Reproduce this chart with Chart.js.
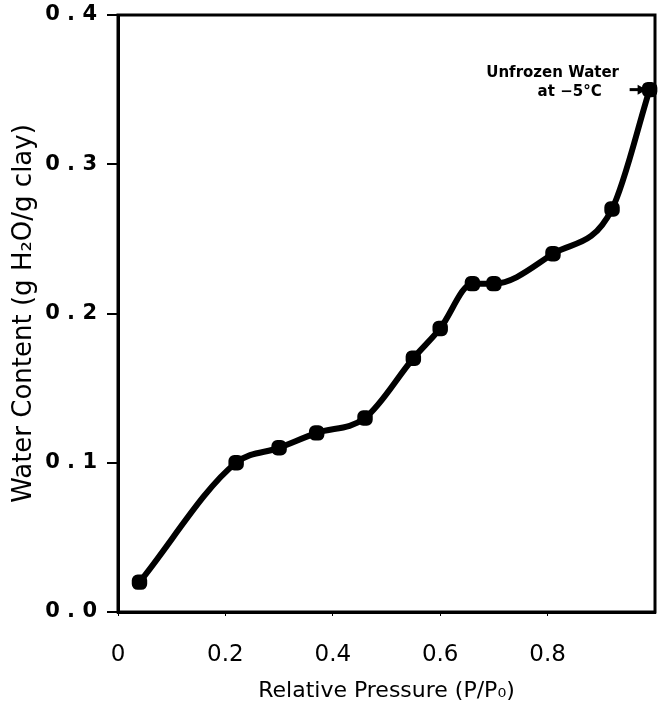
<!DOCTYPE html>
<html>
<head>
<meta charset="utf-8">
<script src="https://cdn.jsdelivr.net/npm/chart.js@4.4.1/dist/chart.umd.min.js"></script>
<style>
  html, body { margin: 0; padding: 0; background: #fff; }
  #wrap { width: 660px; height: 714px; }
</style>
</head>
<body>
<div id="wrap"><canvas id="myChart" width="660" height="714"></canvas></div>
<script>
// data
var pressure = [0.04, 0.22, 0.30, 0.37, 0.46, 0.55, 0.60, 0.66, 0.70, 0.81, 0.92, 0.99];
var water    = [0.02, 0.10, 0.11, 0.12, 0.13, 0.17, 0.19, 0.22, 0.22, 0.24, 0.27, 0.35];
var xTicks = [0, 0.2, 0.4, 0.6, 0.8];
var yTicks = [0.0, 0.1, 0.2, 0.3, 0.4];
var noteLines = ["Unfrozen Water", "at \u22125\u00b0C"];

var points = pressure.map(function(p, i){ return {x: p, y: water[i]}; });

// frame round the plot + the arrow note at the last point
var framePlugin = {
  id: 'frame',
  afterDraw: function(chart){
    var c = chart.ctx, a = chart.chartArea;
    c.save();
    c.strokeStyle = '#000';
    c.lineWidth = 3;
    c.strokeRect(a.left, a.top, a.right - a.left, a.bottom - a.top);

    var last = points[points.length - 1];
    var px = chart.scales.x.getPixelForValue(last.x);
    var py = chart.scales.y.getPixelForValue(last.y);
    c.fillStyle = '#000';
    c.font = 'bold 15px "DejaVu Sans", sans-serif';
    c.textAlign = 'center';
    c.textBaseline = 'middle';
    c.fillText(noteLines[0], px - 97, py - 17);
    c.fillText(noteLines[1], px - 80, py + 2);
    // arrow
    c.lineWidth = 3;
    c.beginPath();
    c.moveTo(px - 20, py);
    c.lineTo(px - 6, py);
    c.stroke();
    c.beginPath();
    c.moveTo(px - 3, py);
    c.lineTo(px - 12, py - 5);
    c.lineTo(px - 12, py + 5);
    c.closePath();
    c.fill();
    c.restore();
  }
};

var ctx = document.getElementById('myChart').getContext('2d');
var chart = new Chart(ctx, {
  type: 'scatter',
  data: {
    datasets: [{
      data: points,
      showLine: true,
      borderColor: '#000',
      backgroundColor: '#000',
      borderWidth: 6,
      tension: 0.4,
      cubicInterpolationMode: 'monotone',
      pointStyle: 'rectRounded',
      pointRadius: 5.5,
      pointHoverRadius: 5.5,
      clip: 8
    }]
  },
  options: {
    responsive: false,
    animation: false,
    layout: { autoPadding: false, padding: { top: 15, right: 5, left: 0, bottom: 0 } },
    plugins: {
      legend: { display: false },
      tooltip: { enabled: false }
    },
    scales: {
      x: {
        type: 'linear',
        min: 0,
        max: 1.0,
        afterBuildTicks: function(axis){
          axis.ticks = xTicks.map(function(v){ return {value: v}; });
        },
        afterFit: function(axis){
          axis.height = 102;
          axis.paddingRight = 0;
          axis.paddingLeft = 0;
        },
        ticks: {
          color: '#000',
          padding: 25,
          maxRotation: 0,
          font: { family: '"DejaVu Sans", sans-serif', size: 23 },
          callback: function(v){ return v === 0 ? '0' : v.toFixed(1); }
        },
        grid: { drawOnChartArea: false, drawTicks: true, tickLength: 4, color: '#000', lineWidth: 1 },
        border: { color: '#000', width: 3 },
        title: {
          display: true,
          text: 'Relative Pressure (P/P\u2080)',
          color: '#000',
          font: { family: '"DejaVu Sans", sans-serif', size: 22 },
          padding: { top: 0, bottom: 10 }
        }
      },
      y: {
        type: 'linear',
        min: 0,
        max: 0.4,
        afterBuildTicks: function(axis){
          axis.ticks = yTicks.map(function(v){ return {value: v}; });
        },
        afterFit: function(axis){
          axis.width = 118;
          axis.paddingTop = 0;
          axis.paddingBottom = 0;
        },
        ticks: {
          color: '#000',
          padding: 10,
          font: { family: '"DejaVu Sans", sans-serif', size: 21, weight: 'bold' },
          callback: function(v){ return v.toFixed(1).replace('.', ' . '); }
        },
        grid: { drawOnChartArea: false, drawTicks: true, tickLength: 11, color: '#000', lineWidth: 2 },
        border: { color: '#000', width: 3 },
        title: {
          display: true,
          text: 'Water Content (g H\u2082O/g clay)',
          color: '#000',
          font: { family: '"DejaVu Sans", sans-serif', size: 26 },
          padding: { top: 9, bottom: 0 }
        }
      }
    }
  },
  plugins: [framePlugin]
});
</script>
</body>
</html>
